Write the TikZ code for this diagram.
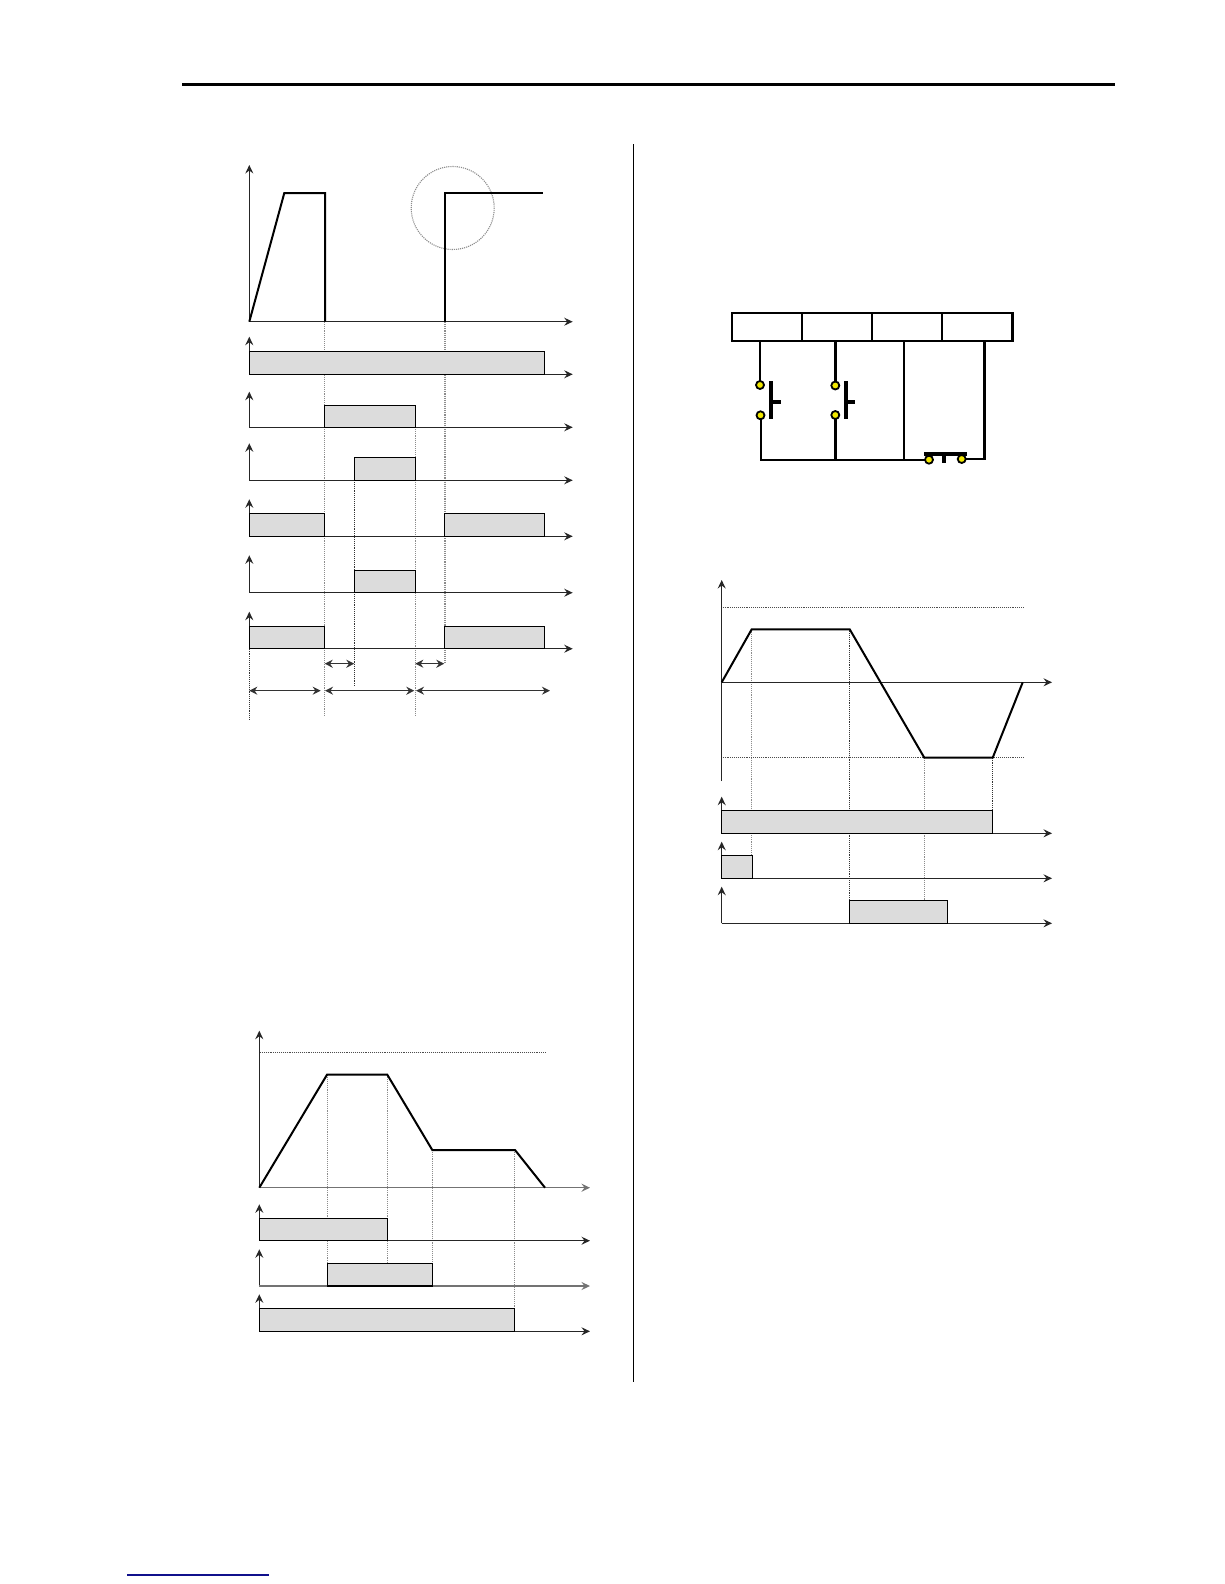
\documentclass[tikz,border=0pt]{standalone}
\usetikzlibrary{arrows.meta}
\definecolor{barfill}{HTML}{DCDCDC}
\definecolor{contact}{HTML}{F2E800}
\definecolor{linkblue}{HTML}{10108C}
\tikzset{
  axis/.style={line width=1.2pt,black!85,-{Stealth[inset=3pt,length=8.5pt,width=8pt]}},
  bar/.style={draw=black,fill=barfill,line width=1.1pt},
  curve/.style={draw=black,line width=2pt,line join=miter},
  guide/.style={draw=black!45,line width=1.1pt,densely dotted},
  darkguide/.style={draw=black!80,line width=0.9pt,densely dotted},
  dimarrow/.style={draw=black!80,line width=1.3pt,{Stealth[length=8pt,width=8pt]}-{Stealth[length=8pt,width=8pt]}},
  wire/.style={draw=black,line width=2pt},
  heavy/.style={draw=black,line width=2.4pt},
  pole/.style={draw=black,line width=3.6pt},
  terminal/.style={circle,draw=black,fill=contact,line width=1.8pt,minimum size=8pt,inner sep=0pt},
}
\begin{document}
\begin{tikzpicture}[x=1pt,y=-1pt]
\useasboundingbox (0,0) rectangle (1224,1584);
\fill[white] (0,0) rectangle (1224,1584);
% page furniture
\draw[black,line width=3pt] (182,84.3) -- (1115,84.3);
\draw[black,line width=1.2pt] (633.3,144) -- (633.3,1381.7);
\draw[linkblue,line width=1.2pt] (127,1575) -- (269,1575);

% ===== chart 1 =====
\draw[guide] (324.7,322) -- (324.7,716.7);
\draw[guide] (415.3,427) -- (415.3,716.7);
\draw[guide] (445,322) -- (445,664);
\draw[darkguide] (354.3,480) -- (354.3,686);
\draw[darkguide] (249.3,648.7) -- (249.3,719.3);
\draw[guide] (452.7,208) circle[radius=41.5];
\draw[axis] (249.3,321.7) -- (249.3,165);
\draw[axis] (249.3,321.7) -- (572.7,321.7);
\draw[curve] (249.3,321.7) -- (284.3,193) -- (325,193) -- (325,321.7);
\draw[curve,line width=2.4pt] (445,321.7) -- (445,193) -- (542.7,193);
% rows
\draw[axis] (249.3,374.3) -- (249.3,336.7);
\draw[axis] (249.3,374.3) -- (572.7,374.3);
\draw[bar] (249.3,351.3) rectangle (544.3,374.3);
\draw[axis] (249.3,427.3) -- (249.3,391.7);
\draw[axis] (249.3,427.3) -- (572.7,427.3);
\draw[bar] (324.7,405.3) rectangle (415.3,427.3);
\draw[axis] (249.3,480.3) -- (249.3,443.3);
\draw[axis] (249.3,480.3) -- (572.7,480.3);
\draw[bar] (354.3,457.3) rectangle (415.3,480.3);
\draw[axis] (249.3,536.3) -- (249.3,499.3);
\draw[axis] (249.3,536.3) -- (572.7,536.3);
\draw[bar] (249.3,513.3) rectangle (324.7,536.3);
\draw[bar] (444.3,513.3) rectangle (544.3,536.3);
\draw[axis] (249.3,592.7) -- (249.3,555.3);
\draw[axis] (249.3,592.7) -- (572.7,592.7);
\draw[bar] (354.3,570.3) rectangle (415.3,592.7);
\draw[axis] (249.3,648.7) -- (249.3,611.7);
\draw[axis] (249.3,648.7) -- (572.7,648.7);
\draw[bar] (249.3,626.3) rectangle (324.7,648.7);
\draw[bar] (444.3,626.3) rectangle (544.3,648.7);
% dimension arrows
\draw[dimarrow] (324.7,663.7) -- (354.3,663.7);
\draw[dimarrow] (415.3,663.7) -- (444.3,663.7);
\draw[dimarrow] (249.3,690.7) -- (320.7,690.7);
\draw[dimarrow] (325,690.7) -- (414.3,690.7);
\draw[dimarrow] (416,690.7) -- (550,690.7);

% ===== wiring =====
\draw[wire] (760,341) -- (760,385);
\draw[wire] (760.7,415.3) -- (760.7,459.7);
\draw[wire,line width=2.4pt] (835.3,341) -- (835.3,385.5);
\draw[wire,line width=2.4pt] (835.3,415) -- (835.3,459.7);
\draw[wire] (903.7,341) -- (903.7,459.7);
\draw[heavy] (731.7,312.7) rectangle (1012.3,341);
\draw[wire] (801.7,312.7) -- (801.7,341);
\draw[wire] (872,312.7) -- (872,341);
\draw[wire] (942,312.7) -- (942,341);
\draw[wire] (760,459.7) -- (928.3,459.7);
\draw[wire,line width=2.4pt] (961.7,459) -- (984.3,459) -- (984.3,341);
\draw[pole] (771,381) -- (771,419.3);
\draw[pole] (771,401.7) -- (781,401.7);
\draw[pole] (845.7,381) -- (845.7,419.3);
\draw[pole] (845.7,401.7) -- (854.7,401.7);
\draw[pole] (924,454) -- (966.7,454);
\draw[pole] (944,454) -- (944,463.3);
\node[terminal] (t1) at (760,385) {};
\node[terminal] (t2) at (760.5,415.3) {};
\node[terminal] (t3) at (835.3,385.5) {};
\node[terminal] (t4) at (835.3,415) {};
\node[terminal] (t5) at (929,459.7) {};
\node[terminal] (t6) at (961.7,459) {};

% ===== chart 3 (right) =====
\draw[guide] (751.7,629.3) -- (751.7,855);
\draw[darkguide] (849.7,629.3) -- (849.7,900);
\draw[guide] (924.7,757.7) -- (924.7,900);
\draw[darkguide] (992.7,757.7) -- (992.7,810);
\draw[darkguide,black!70] (722.7,607.3) -- (1023.3,607.3);
\draw[darkguide,black!70] (722.7,757.7) -- (1023.3,757.7);
\draw[axis] (721.7,781) -- (721.7,580);
\draw[axis] (721.7,682.3) -- (1052,682.3);
\draw[curve] (721.7,682.3) -- (751.7,629.3) -- (849.7,629.3) -- (924.3,757.7) -- (992.7,757.7) -- (1022.7,682.3);
\draw[axis] (721.7,833.3) -- (721.7,796.7);
\draw[axis] (721.7,833.3) -- (1052,833.3);
\draw[bar] (721.7,810.3) rectangle (992.7,833.3);
\draw[axis] (721.7,878.3) -- (721.7,841.7);
\draw[axis] (721.7,878.3) -- (1052,878.3);
\draw[bar] (721.7,855.3) rectangle (752.3,878.3);
\draw[axis] (721.7,923.3) -- (721.7,886.7);
\draw[axis] (721.7,923.3) -- (1052,923.3);
\draw[bar] (849.7,900.3) rectangle (947.7,923.3);

% ===== chart 2 (lower left) =====
\draw[guide] (327.3,1074.7) -- (327.3,1263.3);
\draw[guide] (387.3,1074.7) -- (387.3,1263.3);
\draw[guide] (432.3,1150) -- (432.3,1263.3);
\draw[guide] (514.7,1150) -- (514.7,1308.3);
\draw[darkguide,black!70] (260,1052.3) -- (546,1052.3);
\draw[axis] (259.3,1187.7) -- (259.3,1030.7);
\draw[axis,line width=1.5pt,black!55] (259.3,1187.7) -- (590,1187.7);
\draw[curve] (259.3,1187.7) -- (327,1074.7) -- (387.3,1074.7) -- (432.3,1150) -- (515,1150) -- (545,1187.7);
\draw[axis] (259.3,1240.7) -- (259.3,1204.3);
\draw[axis] (259.3,1240.7) -- (590,1240.7);
\draw[bar] (259.3,1218.3) rectangle (387.3,1240.7);
\draw[axis] (259.3,1286) -- (259.3,1249.3);
\draw[axis,black!55] (259.3,1286) -- (590,1286);
\draw[bar] (327.3,1263.3) rectangle (432.3,1286);
\draw[axis] (259.3,1331.3) -- (259.3,1294.3);
\draw[axis] (259.3,1331.3) -- (590,1331.3);
\draw[bar] (259.3,1308.3) rectangle (514.7,1331.3);
\end{tikzpicture}
\end{document}
